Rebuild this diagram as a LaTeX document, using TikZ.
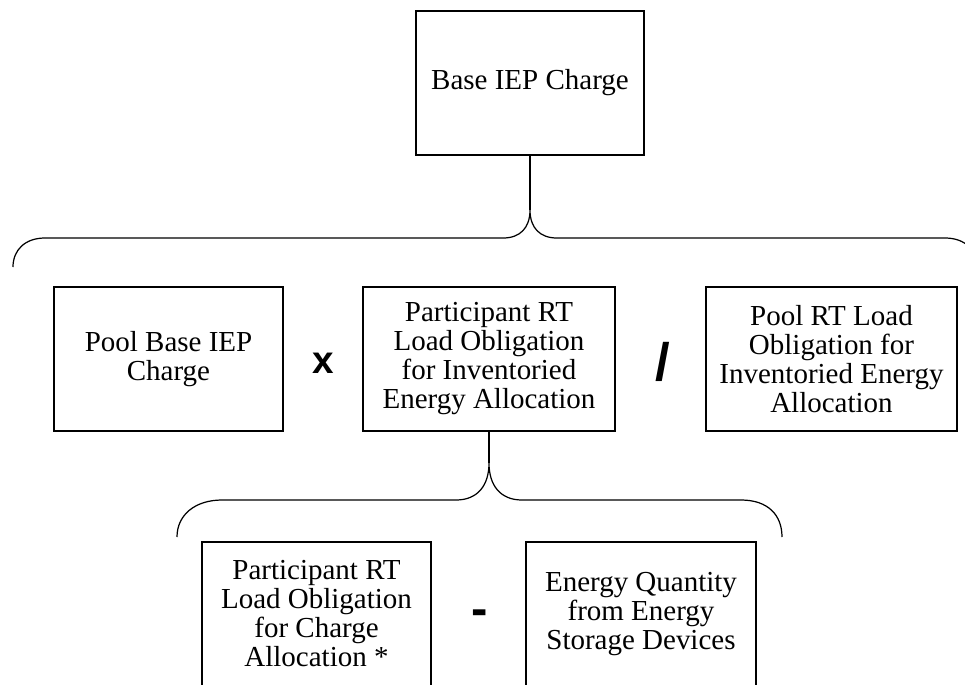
\documentclass[tikz,border=0pt]{standalone}
\usepackage{fontspec}
\setmainfont{Liberation Serif}
\newfontfamily\opfont{Liberation Sans}

\tikzset{
  calcbox/.style={draw, line width=0.7pt, align=center, inner sep=2pt, minimum height=2.88cm,
    font=\fontsize{16.5}{16.5}\selectfont},
  opsign/.style={font=\opfont\bfseries\fontsize{22}{24}\selectfont},
  bracket/.style={line width=0.7pt}
}

\begin{document}
\begin{tikzpicture}[x=0.02cm, y=-0.02cm]

\clip (0,0) rectangle (965,684);

\node[calcbox, minimum width=4.56cm] (base) at (530,83) {Base IEP Charge};

\node[calcbox, minimum width=4.58cm] (poolbase) at (168.5,359) {Pool Base IEP\\Charge};
\node[calcbox, minimum width=5.04cm] (partload) at (489,359) {Participant RT\\Load Obligation\\for Inventoried\\Energy Allocation};
\node[calcbox, minimum width=5.02cm] (poolload) at (831.5,359) {Pool RT Load\\Obligation for\\Inventoried Energy\\Allocation};

\node[calcbox, minimum width=4.58cm] (partcharge) at (316.5,614) {Participant RT\\Load Obligation\\for Charge\\Allocation *};
\node[calcbox, minimum width=4.60cm] (storage) at (641,614) {Energy Quantity\\from Energy\\Storage Devices};

\node[opsign] (times) at (323,363) {x};
\node[opsign, font=\opfont\bfseries\fontsize{30}{32}\selectfont] (divide) at (663,362) {/};
\node[opsign, font=\opfont\bfseries\fontsize{28}{30}\selectfont] (minus) at (480,618) {-};

\coordinate (tipa) at (530,210);
\coordinate (tipb) at (489,463);

\draw [bracket] (base.south) -- (tipa);
\draw [bracket] (13,267) .. controls (13,250) and (25,238) .. (45,238) -- (503,238)
  .. controls (520,238) and (530,228) .. (tipa)
  .. controls (530,228) and (540,238) .. (557,238) -- (945,238)
  .. controls (965,238) and (977,250) .. (977,267);

\draw [bracket] (partload.south) -- (tipb);
\draw [bracket] (177,537) .. controls (177,515) and (195,500) .. (222,500) -- (456,500)
  .. controls (478,500) and (489,485) .. (tipb)
  .. controls (489,485) and (500,500) .. (522,500) -- (741,500)
  .. controls (768,500) and (782,515) .. (782,537);

\end{tikzpicture}
\end{document}
